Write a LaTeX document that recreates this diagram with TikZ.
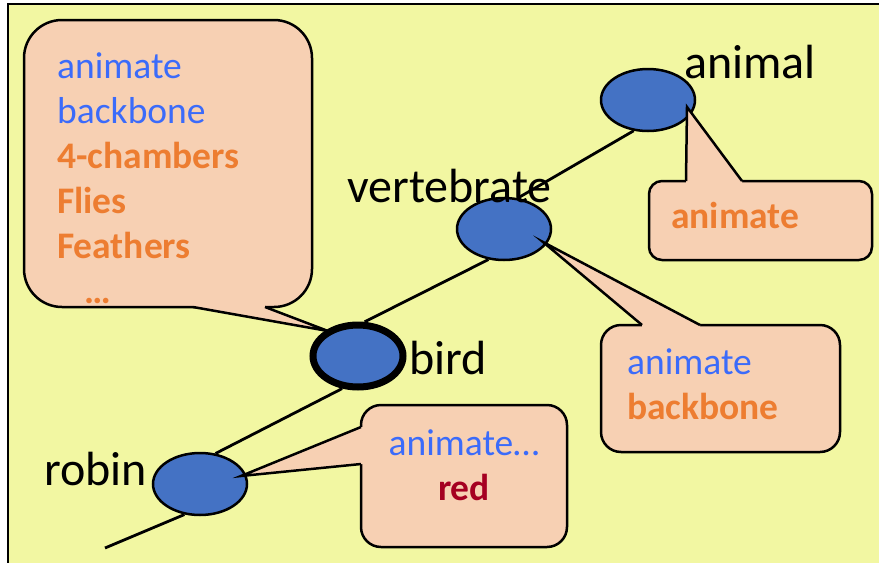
\documentclass[tikz,border=0pt]{standalone}
\usepackage{fontspec}
\setmainfont{Carlito}
\usepackage{tikz}
\usetikzlibrary{shapes.geometric}
\definecolor{paper}{HTML}{F2F7A2}
\definecolor{nodeblue}{HTML}{4472C4}
\definecolor{bubblefill}{HTML}{F7D0B3}
\definecolor{txtblue}{HTML}{3B6BFA}
\definecolor{txtorange}{HTML}{ED7D31}
\definecolor{txtred}{HTML}{A50021}
\tikzset{
  concept/.style = {ellipse, draw=black, fill=nodeblue, line width=2.5pt,
    minimum width=94pt, minimum height=62pt, inner sep=0pt},% plain concept
  concept_h/.style = {concept, line width=7pt, minimum width=90pt,
    minimum height=62pt},% highlighted concept
  lbl/.style = {anchor=base west, inner sep=0pt,
    font=\fontsize{48}{56}\selectfont},% concept name
  link/.style = {draw=black, line width=2.8pt},
  bubble/.style = {rectangle, draw=black, fill=bubblefill, line width=2.5pt,
    rounded corners=#1, inner sep=0pt},% property box
  btxt/.style = {anchor=base west, inner sep=0pt, align=left,
    font=\fontsize{37.5}{45}\selectfont},% property text, base = last line
  tipfill/.style = {fill=bubblefill},
  tipline/.style = {draw=black, line width=2.5pt, line join=miter}
}
\newcommand{\inh}[1]{\textcolor{txtblue}{#1}}% inherited
\newcommand{\own}[1]{\textcolor{txtorange}{\bfseries #1}}% own property

\begin{document}
\begin{tikzpicture}[x=1pt,y=-1pt]
\useasboundingbox (0,0) rectangle (879,563);
\fill[paper] (8,4) rectangle (879,563);
\draw[line width=2.5pt] (879,4) -- (8,4) -- (8,563);

% the hierarchy
\node[concept] (animal) at (648,100) {};
\node[concept] (vertebrate) at (504,229) {};
\node[concept_h] (bird) at (358,356) {};
\node[concept] (robin) at (200,484) {};
\coordinate (tail) at (105,548);
\draw[link] (animal.245) -- (vertebrate.66);
\draw[link] (vertebrate.243) -- (bird.79);
\draw[link] (bird.244) -- (robin.63);
\draw[link] (robin.243) -- (tail);

% properties
\node[bubble=38, minimum width=288pt, minimum height=287pt] (birdbox) at (168,163.5) {};
\fill[tipfill] (193,301) -- (193,307) -- ([shift={(-30,-25)}]bird.center) -- (265,307) -- (265,301) -- cycle;
\draw[tipline] (193,307) -- ([shift={(-30,-25)}]bird.center) -- (265,307);
\node[btxt] (birdtxt) at (57,303) {\inh{animate}\\ \inh{backbone}\\ \own{4-chambers}\\
  \own{Flies}\\ \own{Feathers}\\ \hspace*{27pt}\own{…}};

\node[bubble=13, minimum width=223pt, minimum height=79pt] (animalbox) at (760.5,220.5) {};
\fill[tipfill] (686,187) -- (686,181) -- ([shift={(39,7)}]animal.center) -- (742,181) -- (742,187) -- cycle;
\draw[tipline] (686,181) -- ([shift={(39,7)}]animal.center) -- (742,181);
\node[btxt] (animaltxt) at (671,228) {\own{animate}};

\node[bubble=20, minimum width=239pt, minimum height=127pt] (vertbox) at (720.5,388.5) {};
\fill[tipfill] (642,331) -- (642,325) -- ([shift={(39,13)}]vertebrate.center) -- (700,325) -- (700,331) -- cycle;
\draw[tipline] (642,325) -- ([shift={(39,13)}]vertebrate.center) -- (700,325);
\node[btxt] (verttxt) at (627,419) {\inh{animate}\\ \own{backbone}};

\node[bubble=20, minimum width=206pt, minimum height=142pt] (robinbox) at (464,476) {};
\fill[tipfill] (367,427) -- (361,427) -- ([shift={(41,-8)}]robin.center) -- (361,464) -- (367,464) -- cycle;
\draw[tipline] (361,427) -- ([shift={(41,-8)}]robin.center) -- (361,464);
\node[btxt, align=center, anchor=base] (robintxt) at (464,500) {\inh{animate…}\\
  \textcolor{txtred}{\bfseries red}};

% names
\node[lbl] (animallbl) at (684,78) {animal};
\node[lbl] (vertlbl) at (347,202) {vertebrate};
\node[lbl] (birdlbl) at (409,374) {bird};
\node[lbl] (robinlbl) at (44,485) {robin};
\end{tikzpicture}
\end{document}
